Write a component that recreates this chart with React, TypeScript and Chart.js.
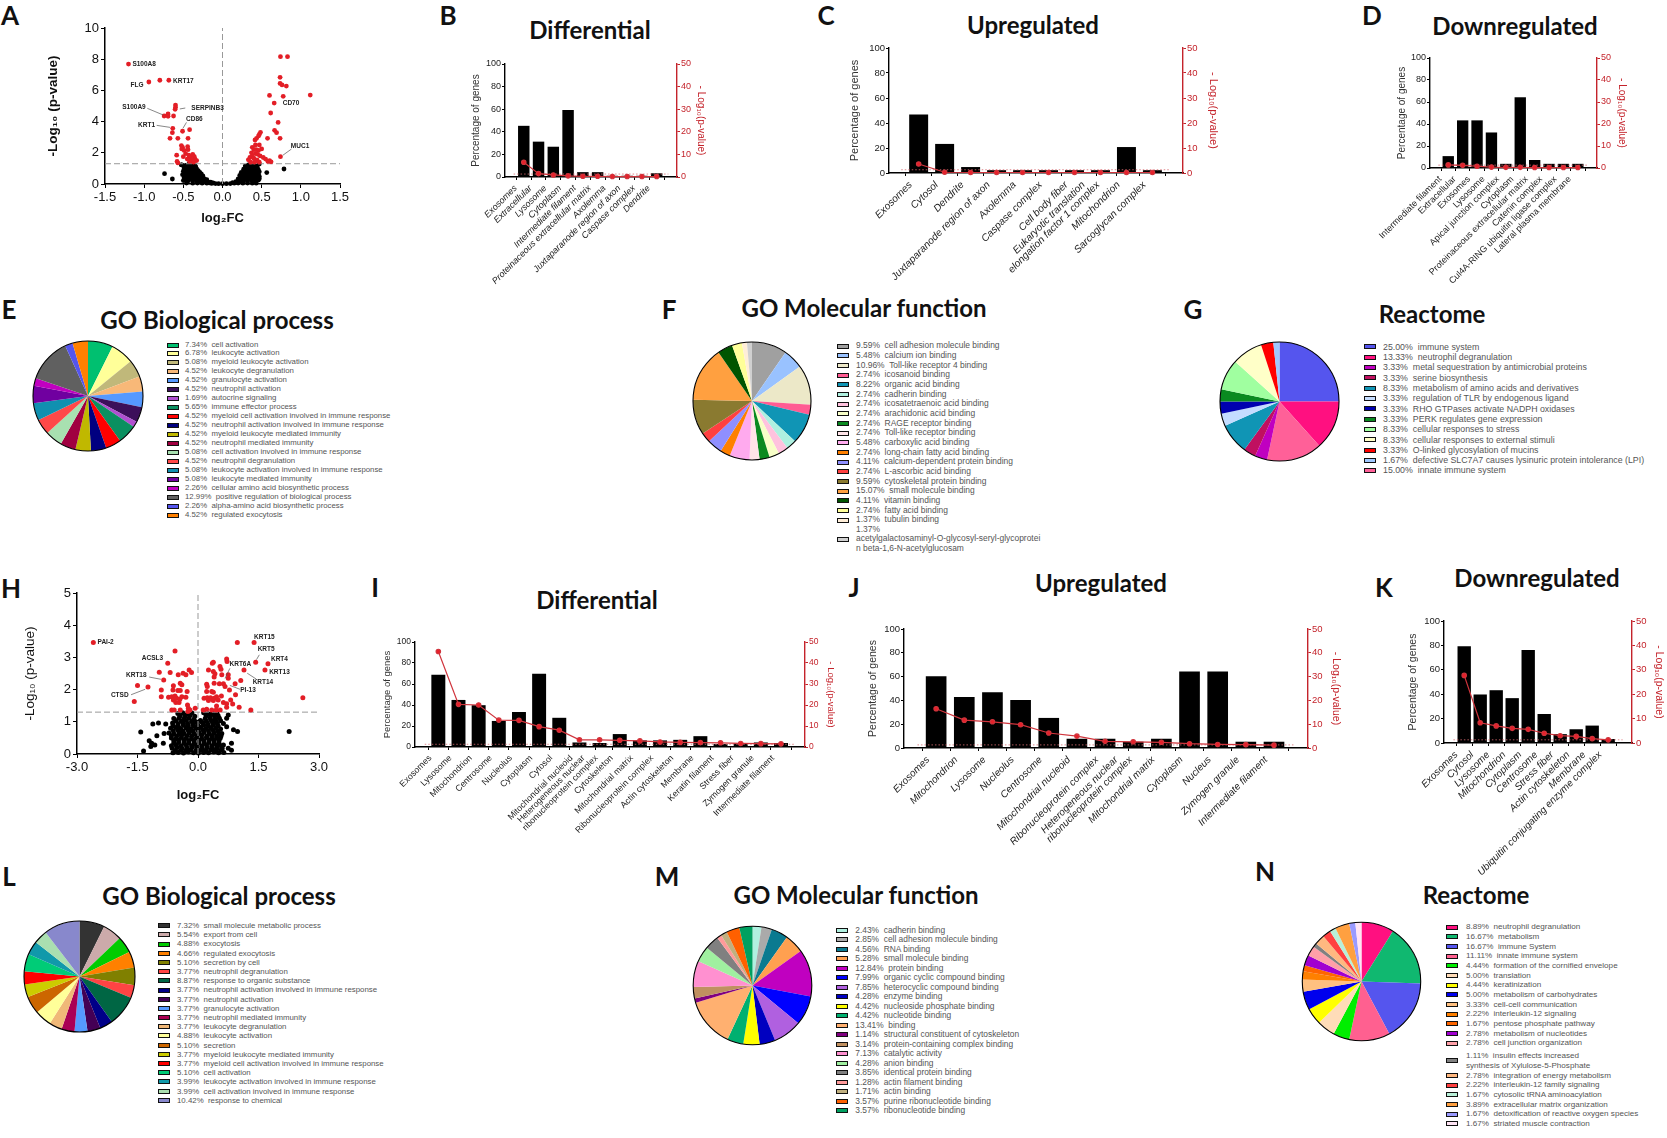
import React, { useEffect, useRef } from "react";
import { Chart, registerables } from "chart.js";

Chart.register(...registerables);

// ---- volcano A ----
const aRed = [
  [-1.2, 7.69], [-0.94, 6.54], [-0.8, 6.65], [-0.685, 6.65], [-0.6, 5.06], [-0.6, 4.92], [-0.605, 4.79],
  [-0.745, 4.36], [-0.695, 4.49], [-0.695, 4.34], [-0.625, 4.36], [-0.635, 3.57], [-0.64, 3.29], [-0.67, 2.93],
  [-0.57, 2.93], [-0.51, 3.38], [-0.42, 3.48], [-0.44, 2.93], [-0.525, 2.46], [-0.51, 2.35], [-0.445, 2.39],
  [-0.52, 2.25], [-0.49, 2.15], [-0.44, 2.2], [-0.47, 1.95], [-0.43, 1.85], [-0.41, 1.7], [-0.38, 1.9],
  [-0.36, 1.75], [-0.35, 1.6], [-0.39, 1.55], [-0.33, 1.5], [-0.42, 1.45], [-0.37, 1.4], [-0.585, 1.85],
  [-0.5, 1.75], [-0.58, 1.45], [-0.57, 1.35], [-0.45, 1.6],
  [0.74, 8.16], [0.83, 8.16], [0.735, 6.84], [0.735, 6.45], [0.76, 6.35], [0.815, 6.28], [1.12, 5.7],
  [0.6, 5.68], [0.775, 5.62], [0.66, 5.19], [0.615, 4.55], [0.71, 3.95], [0.665, 3.44], [0.69, 3.29],
  [0.485, 3.31], [0.47, 3.18], [0.735, 2.93], [0.575, 2.93], [0.435, 2.93], [0.46, 3.08], [0.415, 2.82],
  [0.74, 1.75], [0.42, 2.5], [0.47, 2.5], [0.38, 2.35], [0.4, 2.2], [0.5, 2.25], [0.43, 2.2], [0.46, 2.15],
  [0.37, 2.0], [0.42, 1.95], [0.45, 1.9], [0.35, 1.7], [0.38, 1.8], [0.48, 1.8], [0.52, 1.7], [0.4, 1.65],
  [0.33, 1.55], [0.44, 1.55], [0.55, 1.6], [0.6, 1.5], [0.62, 1.42], [0.36, 1.4], [0.41, 1.4], [0.47, 1.4], [0.58, 1.45],
];
const aBlack = [
  [-0.74, 0.66], [-0.64, 0.32], [0.785, 0.96], [0.565, 0.73], [0.47, 1.28], [-0.525, 1.22],
  [-0.52, 1.22], [-0.47, 1.2], [-0.43, 1.28], [-0.39, 1.25], [-0.35, 1.18], [-0.49, 1.02], [-0.44, 1.05], [-0.4, 1.08],
  [-0.36, 1.0], [-0.33, 0.95], [-0.5, 0.82], [-0.45, 0.88], [-0.41, 0.85], [-0.37, 0.82], [-0.33, 0.78], [-0.29, 0.75],
  [-0.51, 0.6], [-0.44, 0.62], [-0.4, 0.65], [-0.36, 0.6], [-0.32, 0.58], [-0.28, 0.55], [-0.25, 0.52], [-0.49, 0.4],
  [-0.45, 0.42], [-0.4, 0.4], [-0.35, 0.42], [-0.31, 0.38], [-0.27, 0.36], [-0.23, 0.33], [-0.2, 0.28], [-0.5, 0.22],
  [-0.44, 0.2], [-0.38, 0.22], [-0.33, 0.2], [-0.28, 0.18], [-0.23, 0.16], [-0.19, 0.14], [-0.15, 0.12], [-0.46, 0.06],
  [-0.38, 0.05], [-0.32, 0.06], [-0.26, 0.05], [-0.2, 0.05], [-0.14, 0.04], [-0.09, 0.03], [-0.05, 0.02], [0, 0.02],
  [-0.42, 1.15], [-0.38, 1.12], [-0.34, 1.08], [-0.47, 0.95], [-0.42, 0.96], [-0.38, 0.93], [-0.34, 0.9], [-0.31, 0.86],
  [-0.47, 0.72], [-0.42, 0.74], [-0.38, 0.72], [-0.34, 0.7], [-0.3, 0.66], [-0.27, 0.64], [-0.47, 0.5], [-0.42, 0.52],
  [-0.38, 0.5], [-0.33, 0.5], [-0.29, 0.47], [-0.25, 0.43], [-0.47, 0.3], [-0.41, 0.3], [-0.36, 0.31], [-0.3, 0.28],
  [-0.25, 0.25], [-0.21, 0.21], [-0.17, 0.08], [-0.12, 0.07],
  [0.05, 0.02], [0.1, 0.03], [0.15, 0.05], [0.2, 0.06], [0.26, 0.05], [0.32, 0.06], [0.38, 0.05], [0.43, 0.05],
  [0.17, 0.15], [0.22, 0.17], [0.27, 0.2], [0.32, 0.2], [0.37, 0.22], [0.42, 0.2], [0.46, 0.25], [0.2, 0.33],
  [0.25, 0.38], [0.3, 0.4], [0.35, 0.42], [0.4, 0.4], [0.45, 0.42], [0.22, 0.55], [0.26, 0.58], [0.31, 0.6],
  [0.36, 0.62], [0.41, 0.6], [0.46, 0.58], [0.24, 0.75], [0.28, 0.78], [0.33, 0.82], [0.38, 0.85], [0.43, 0.8],
  [0.47, 0.78], [0.27, 0.95], [0.31, 1.0], [0.36, 1.02], [0.41, 1.0], [0.45, 0.98], [0.29, 1.15], [0.33, 1.22],
  [0.37, 1.25], [0.41, 1.2], [0.44, 1.15],
  [0.31, 1.08], [0.35, 1.12], [0.39, 1.1], [0.43, 1.06], [0.29, 0.88], [0.33, 0.92], [0.38, 0.94], [0.42, 0.9],
  [0.46, 0.88], [0.26, 0.66], [0.3, 0.7], [0.35, 0.72], [0.4, 0.72], [0.44, 0.7], [0.23, 0.45], [0.28, 0.48],
  [0.33, 0.5], [0.38, 0.52], [0.43, 0.5], [0.47, 0.48], [0.22, 0.25], [0.27, 0.29], [0.32, 0.31], [0.37, 0.31],
  [0.42, 0.3], [0.47, 0.34], [0.13, 0.09], [0.18, 0.1],
];
const aGenes = [
  ["S100A8", -1.0, 7.67], ["FLG", -1.09, 6.33], ["KRT17", -0.5, 6.6], ["S100A9", -1.13, 4.94], ["SERPINB3", -0.19, 4.85],
  ["CD86", -0.36, 4.17], ["KRT1", -0.97, 3.74], ["CD70", 0.875, 5.21], ["MUC1", 0.99, 2.41],
];
const aLeaders = [
  [-0.96, 4.85, -0.755, 4.42], [-0.545, 4.81, -0.475, 4.87], [-0.505, 3.57, -0.46, 3.95],
  [-0.84, 3.76, -0.67, 3.63], [0.77, 1.84, 0.88, 2.24],
];

// ---- volcano H ----
const hRed = [
  [-2.595, 3.46], [-0.57, 3.2], [-0.75, 2.82], [-0.96, 2.54], [-0.69, 2.53], [-0.85, 2.3], [-1.5, 2.13], [-1.24, 2.08],
  [-1.58, 1.63], [-0.91, 1.99], [-0.91, 1.78], [-0.49, 2.46], [-0.37, 2.51], [-0.3, 2.46], [-0.22, 2.61], [-0.16, 2.53],
  [-0.44, 2.2], [-0.4, 2.15], [-0.61, 2.12], [-0.62, 1.99], [-0.5, 1.97], [-0.44, 1.97], [-0.27, 1.94], [-0.73, 1.76],
  [-0.65, 1.78], [-0.57, 1.8], [-0.61, 1.68], [-0.53, 1.73], [-0.45, 1.7], [-0.4, 1.78], [-0.55, 1.6], [-0.47, 1.6],
  [-0.3, 1.76], [-0.65, 1.37], [-0.59, 1.37], [-0.44, 1.37], [-0.26, 1.52], [-0.24, 1.42], [-0.2, 1.37], [-0.07, 1.42], [-0.25, 1.32],
  [0.975, 3.46], [1.39, 3.46], [1.43, 2.85], [1.735, 2.8], [1.66, 2.61], [1.14, 2.61], [2.6, 1.75], [0.71, 2.95], [0.72, 2.87],
  [0.38, 2.85], [0.355, 2.82], [0.545, 2.72], [0.57, 2.63], [0.26, 2.61], [0.38, 2.56], [0.42, 2.49], [0.4, 2.39], [0.59, 2.46],
  [0.75, 2.46], [0.75, 2.35], [1.06, 2.28], [0.92, 2.18], [0.63, 2.18], [0.53, 2.18], [0.4, 2.2], [0.215, 2.17], [0.23, 2.1],
  [0.67, 2.1], [0.78, 1.99], [0.93, 1.84], [0.215, 1.94], [0.34, 1.94], [0.38, 1.92], [0.15, 1.73], [0.23, 1.75], [0.31, 1.75],
  [0.4, 1.73], [0.46, 1.78], [0.58, 1.8], [0.26, 1.66], [0.38, 1.66], [0.5, 1.68], [0.81, 1.68], [0.63, 1.6], [0.71, 1.56],
  [0.86, 1.55], [1.02, 1.45], [1.31, 1.37], [0.71, 1.45], [0.46, 1.49], [0.215, 1.39], [0.34, 1.37], [0.45, 1.37], [0.55, 1.37], [0.13, 1.37],
];
const hBlack = [
  [-1.42, 0.68], [-1.35, 0.09], [-1.12, 0.93], [-0.98, 0.96], [-0.8, 0.93], [-1.02, 0.57], [-1.21, 0.41], [-1.15, 0.33], [-1.07, 0.28],
  [-1.17, 0.23], [-0.84, 0.64], [-0.86, 0.33], [2.26, 0.7], [0.88, 0.75], [0.98, 0.7], [0.75, 1.21], [0.71, 1.11], [0.63, 0.95],
  [0.71, 0.85], [0.59, 0.64], [0.55, 0.49], [0.83, 0.33], [0.83, 0.12], [0.75, 0.18], [0.63, 0.28],
  [-0.5, 1.26], [-0.38, 1.28], [-0.27, 1.25], [-0.15, 1.27], [0.14, 1.28], [0.25, 1.25], [0.36, 1.27], [0.47, 1.26],
  [-0.6, 1.1], [-0.47, 1.12], [-0.35, 1.09], [-0.22, 1.12], [-0.1, 1.08], [0.06, 1.04], [0.18, 1.1], [0.3, 1.12], [0.42, 1.09], [0.53, 1.11],
  [-0.63, 0.96], [-0.5, 0.94], [-0.38, 0.97], [-0.26, 0.95], [-0.13, 0.93], [-0.01, 0.91], [0.12, 0.96], [0.24, 0.94], [0.36, 0.97], [0.48, 0.95],
  [-0.68, 0.8], [-0.55, 0.82], [-0.43, 0.79], [-0.3, 0.81], [-0.18, 0.78], [-0.05, 0.8], [0.07, 0.82], [0.2, 0.79], [0.32, 0.81], [0.44, 0.8], [0.56, 0.78],
  [-0.72, 0.65], [-0.6, 0.63], [-0.47, 0.66], [-0.35, 0.64], [-0.22, 0.66], [-0.1, 0.63], [0.03, 0.65], [0.15, 0.67], [0.28, 0.64], [0.4, 0.65], [0.52, 0.63],
  [-0.66, 0.5], [-0.54, 0.48], [-0.41, 0.51], [-0.29, 0.49], [-0.16, 0.47], [-0.04, 0.5], [0.09, 0.48], [0.21, 0.51], [0.34, 0.49], [0.46, 0.5],
  [-0.6, 0.34], [-0.48, 0.36], [-0.35, 0.33], [-0.23, 0.35], [-0.1, 0.32], [0.02, 0.35], [0.15, 0.33], [0.27, 0.36], [0.4, 0.34], [0.52, 0.33],
  [-0.64, 0.18], [-0.52, 0.2], [-0.39, 0.17], [-0.27, 0.19], [-0.14, 0.21], [-0.02, 0.18], [0.11, 0.17], [0.23, 0.2], [0.36, 0.18], [0.48, 0.19], [0.6, 0.17],
  [-0.62, 0.04], [-0.49, 0.05], [-0.36, 0.03], [-0.24, 0.06], [-0.11, 0.04], [0.01, 0.03], [0.14, 0.05], [0.26, 0.04], [0.39, 0.06], [0.51, 0.04], [0.64, 0.05],
  [-0.44, 1.19], [-0.32, 1.18], [-0.2, 1.2], [-0.08, 1.17], [0.2, 1.19], [0.31, 1.2], [0.41, 1.18], [0.5, 1.19],
  [-0.54, 1.03], [-0.41, 1.02], [-0.29, 1.04], [-0.16, 1.01], [-0.04, 0.99], [0.09, 1.0], [0.21, 1.02], [0.33, 1.04], [0.45, 1.02], [0.56, 1.03],
  [-0.62, 0.88], [-0.49, 0.87], [-0.36, 0.89], [-0.24, 0.87], [-0.11, 0.86], [0.01, 0.87], [0.14, 0.89], [0.26, 0.87], [0.38, 0.89], [0.5, 0.87],
  [-0.61, 0.72], [-0.49, 0.73], [-0.37, 0.71], [-0.24, 0.73], [-0.12, 0.71], [0.01, 0.72], [0.13, 0.74], [0.26, 0.72], [0.38, 0.73], [0.5, 0.71],
  [-0.66, 0.57], [-0.53, 0.56], [-0.41, 0.58], [-0.28, 0.57], [-0.16, 0.55], [-0.03, 0.57], [0.09, 0.58], [0.22, 0.56], [0.34, 0.57], [0.46, 0.56], [0.57, 0.56],
  [-0.6, 0.42], [-0.48, 0.43], [-0.35, 0.42], [-0.23, 0.41], [-0.1, 0.4], [0.03, 0.42], [0.15, 0.41], [0.28, 0.43], [0.4, 0.42], [0.52, 0.41],
  [-0.66, 0.26], [-0.54, 0.27], [-0.42, 0.25], [-0.29, 0.27], [-0.16, 0.26], [-0.04, 0.27], [0.09, 0.25], [0.21, 0.28], [0.34, 0.26], [0.46, 0.27], [0.58, 0.25],
  [-0.56, 0.11], [-0.43, 0.12], [-0.3, 0.11], [-0.18, 0.13], [-0.05, 0.11], [0.07, 0.12], [0.2, 0.11], [0.32, 0.13], [0.45, 0.11], [0.57, 0.12],
];
const hGenes = [
  ["PAI-2", -2.29, 3.46], ["ACSL3", -1.13, 2.97], ["KRT18", -1.53, 2.44], ["CTSD", -1.94, 1.82], ["KRT15", 1.645, 3.64],
  ["KRT5", 1.69, 3.24], ["KRT4", 2.02, 2.93], ["KRT13", 2.02, 2.55], ["KRT6A", 1.05, 2.78], ["KRT14", 1.61, 2.22], ["PI-13", 1.24, 1.97],
];
const hLeaders = [
  [-1.21, 2.39, -0.92, 2.32], [-1.66, 1.84, -1.31, 2.01], [1.52, 3.08, 1.45, 2.93],
  [0.79, 2.66, 0.67, 2.35], [1.22, 2.51, 1.44, 2.33], [0.79, 2.13, 1.04, 2.01],
];

// ---- bars ----
const bLabels = ["Exosomes", "Extracellular", "Lysosome", "Cytoplasm", "Intermediate filament", "Proteinaceous extracellular matrix", "Axolemma", "Juxtaparanode region of axon", "Caspase complex", "Dendrite"];
const bPercent = [45, 31, 26.5, 59, 4, 4, 0.8, 0.8, 0.8, 3];
const bLog = [6.5, 1.5, 0.9, 0.5, 0.3, 0.3, 0.2, 0.2, 0.2, 0.2];

const cLabels = ["Exosomes", "Cytosol", "Dendrite", "Juxtaparanode region of axon", "Axolemma", "Caspase complex", "Cell body fiber", ["Eukaryotic translation", "elongation factor 1 complex"], "Mitochondrion", "Sarcoglycan complex"];
const cPercent = [46.5, 23, 4.5, 2, 2, 2, 2, 2, 20.5, 2];
const cLog = [3.6, 0.3, 0.2, 0.2, 0.2, 0.2, 0.2, 0.2, 0.2, 0.2];

const dLabels = ["Intermediate filament", "Extracellular", "Exosomes", "Lysosome", "Apical junction complex", "Cytoplasm", "Proteinaceous extracellular matrix", "Catenin complex", "Cul4A-RING ubiquitin ligase complex", "Lateral plasma membrane"];
const dPercent = [10.5, 43, 43, 32, 3.5, 64, 7, 3.5, 3.5, 3.5];
const dLog = [1.4, 1.2, 0.8, 0.4, 0.3, 0.3, 0.2, 0.2, 0.2, 0.2];

const iLabels = ["Exosomes", "Lysosome", "Mitochondrion", "Centrosome", "Nucleolus", "Cytoplasm", "Cytosol", "Mitochondrial nucleoid", ["Heterogeneous nuclear", "ribonucleoprotein complex"], "Cytoskeleton", "Mitochondrial matrix", "Ribonucleoprotein complex", "Actin cytoskeleton", "Membrane", "Keratin filament", "Stress fiber", "Zymogen granule", "Intermediate filament"];
const iPercent = [68.5, 44.5, 39.5, 24.5, 33, 69.5, 27.5, 4, 3.5, 12, 6, 6, 6.5, 10, 2.5, 3, 4, 3.5];
const iLog = [45.5, 20.3, 20, 12.8, 12.7, 9.7, 8, 3.4, 3.4, 3.2, 2.9, 2.4, 2.2, 2.1, 2, 1.7, 1.6, 1.5];

const jLabels = ["Exosomes", "Mitochondrion", "Lysosome", "Nucleolus", "Centrosome", "Mitochondrial nucleoid", "Ribonucleoprotein complex", ["Heterogeneous nuclear", "ribonucleoprotein complex"], "Mitochondrial matrix", "Cytoplasm", "Nucleus", "Zymogen granule", "Intermediate filament"];
const jPercent = [60, 42.5, 46.5, 40, 25, 7.5, 7.5, 5, 7.5, 64, 64, 5, 5];
const jLog = [16.5, 11.7, 11, 9.8, 6.3, 5, 2.8, 2.6, 2.4, 1.8, 1.5, 1.4, 1.2];

const kLabels = ["Exosomes", "Cytosol", "Lysosome", "Mitochondrion", "Cytoplasm", "Centrosome", "Stress fiber", "Actin cytoskeleton", "Membrane", "Ubiquitin conjugating enzyme complex"];
const kPercent = [79, 39.5, 43, 36.5, 76, 23.5, 7, 11, 14, 3];
const kLog = [27.7, 8.3, 7, 6, 5.6, 4, 3, 2.7, 1.8, 1.3];

// ---- pies ----
const eValues = [7.34, 6.78, 5.08, 4.52, 4.52, 4.52, 1.69, 5.65, 4.52, 4.52, 4.52, 4.52, 5.08, 4.52, 5.08, 5.08, 2.26, 12.99, 2.26, 4.52];
const eNames = ["cell activation", "leukocyte activation", "myeloid leukocyte activation", "leukocyte degranulation", "granulocyte activation", "neutrophil activation", "autocrine signaling", "immune effector process", "myeloid cell activation involved in immune response", "neutrophil activation involved in immune response", "myeloid leukocyte mediated immunity", "neutrophil mediated immunity", "cell activation involved in immune response", "neutrophil degranulation", "leukocyte activation involved in immune response", "leukocyte mediated immunity", "cellular amino acid biosynthetic process", "positive regulation of biological process", "alpha-amino acid biosynthetic process", "regulated exocytosis"];
const eColors = ["#00c070", "#ffff99", "#c0b87a", "#f8b878", "#5599ff", "#3c0f5a", "#b050d0", "#0a9060", "#ff0000", "#000080", "#c0b800", "#a00040", "#a8e0b0", "#ff4848", "#1090b0", "#7000a0", "#c000c0", "#606060", "#5555ee", "#ff8000"];

const fValues = [9.59, 5.48, 10.96, 2.74, 8.22, 2.74, 2.74, 2.74, 2.74, 2.74, 5.48, 2.74, 4.11, 2.74, 9.59, 15.07, 4.11, 2.74, 1.37, 1.37];
const fNames = ["cell adhesion molecule binding", "calcium ion binding", "Toll-like receptor 4 binding", "icosanoid binding", "organic acid binding", "cadherin binding", "icosatetraenoic acid binding", "arachidonic acid binding", "RAGE receptor binding", "Toll-like receptor binding", "carboxylic acid binding", "long-chain fatty acid binding", "calcium-dependent protein binding", "L-ascorbic acid binding", "cytoskeletal protein binding", "small molecule binding", "vitamin binding", "fatty acid binding", "tubulin binding", "\nacetylgalactosaminyl-O-glycosyl-seryl-glycoprotei\nn beta-1,6-N-acetylglucosam"];
const fColors = ["#a0a0a0", "#99c2ff", "#ece8c8", "#ff5c93", "#1095b5", "#aff0e0", "#ffc2de", "#f8ffc8", "#0a8a20", "#ffe4e8", "#ffaaee", "#ff8000", "#8f8fff", "#ff4040", "#8a7a30", "#ffa040", "#005500", "#ffff99", "#ffeed8", "#d0d0d0"];

const gValues = [25, 13.33, 15, 3.33, 3.33, 8.33, 3.33, 3.33, 3.33, 8.33, 8.33, 3.33, 1.67];
const gNames = ["immune system", "neutrophil degranulation", "innate immune system", "metal sequestration by antimicrobial proteins", "serine biosynthesis", "metabolism of amino acids and derivatives", "regulation of TLR by endogenous ligand", "RHO GTPases activate NADPH oxidases", "PERK regulates gene expression", "cellular responses to stress", "cellular responses to external stimuli", "O-linked glycosylation of mucins", "defective SLC7A7 causes lysinuric protein intolerance (LPI)"];
const gColors = ["#5555ee", "#ff1080", "#ff6098", "#c000c0", "#c01060", "#1095b5", "#c4dcff", "#0000b0", "#0a8a20", "#a0ffa0", "#ffffc8", "#ff0000", "#a0c8ff"];
const gLegendOrder = [0, 1, 3, 4, 5, 6, 7, 8, 9, 10, 11, 12, 2];

const lValues = [7.32, 5.54, 4.88, 4.66, 5.1, 3.77, 8.87, 3.77, 3.77, 3.77, 3.77, 3.77, 4.88, 5.1, 3.77, 3.77, 5.1, 3.99, 3.99, 10.42];
const lNames = ["small molecule metabolic process", "export from cell", "exocytosis", "regulated exocytosis", "secretion by cell", "neutrophil degranulation", "response to organic substance", "neutrophil activation involved in immune response", "neutrophil activation", "granulocyte activation", "neutrophil mediated immunity", "leukocyte degranulation", "leukocyte activation", "secretion", "myeloid leukocyte mediated immunity", "myeloid cell activation involved in immune response", "cell activation", "leukocyte activation involved in immune response", "cell activation involved in immune response", "response to chemical"];
const lColors = ["#333333", "#ccaaaa", "#00cc00", "#ff8000", "#808000", "#ff4444", "#006644", "#000088", "#440055", "#5599ff", "#aa0055", "#f0b878", "#ffff99", "#cc6600", "#cccc00", "#ff0000", "#00cc77", "#1199aa", "#aadfb0", "#8888cc"];

const mValues = [2.43, 2.85, 4.56, 5.28, 12.84, 7.99, 7.85, 4.28, 4.42, 4.42, 13.41, 1.14, 3.14, 7.13, 4.28, 3.85, 1.28, 1.71, 3.57, 3.57];
const mNames = ["cadherin binding", "cell adhesion molecule binding", "RNA binding", "small molecule binding", "protein binding", "organic cyclic compound binding", "heterocyclic compound binding", "enzyme binding", "nucleoside phosphate binding", "nucleotide binding", "binding", "structural constituent of cytoskeleton", "protein-containing complex binding", "catalytic activity", "anion binding", "identical protein binding", "actin filament binding", "actin binding", "purine ribonucleotide binding", "ribonucleotide binding"];
const mColors = ["#b0f0e0", "#aaaaaa", "#0a7a90", "#ffa050", "#c000c0", "#0000ff", "#b060e0", "#0000c0", "#ffff00", "#00b070", "#ffb070", "#800080", "#c09060", "#ff90d0", "#a0f0a0", "#808080", "#ff9a9a", "#c0b080", "#ff6000", "#00a060"];

const nValues = [8.89, 16.67, 16.67, 11.11, 4.44, 5, 4.44, 5, 3.33, 2.22, 1.67, 2.78, 2.78, 1.11, 2.78, 2.22, 1.67, 3.89, 1.67, 1.67];
const nNames = ["neutrophil degranulation", "metabolism", "immune System", "innate immune system", "formation of the cornified envelope", "translation", "keratinization", "metabolism of carbohydrates", "cell-cell communication", "interleukin-12 signaling", "pentose phosphate pathway", "metabolism of nucleotides", "cell junction organization", "insulin effects increased\nsynthesis of Xylulose-5-Phosphate", "integration of energy metabolism", "interleukin-12 family signaling", "cytosolic tRNA aminoacylation", "extracellular matrix organization", "detoxification of reactive oxygen species", "striated muscle contraction"];
const nColors = ["#ff1080", "#10b870", "#5555ee", "#ff6090", "#00ee00", "#ffdcb8", "#ffff00", "#0000ee", "#ffc080", "#ff8000", "#ff6600", "#a000d0", "#ffa0a8", "#808080", "#ffb880", "#ff4040", "#b8f0d8", "#ffa040", "#9a9aff", "#ffe4f4"];

const headings = [
  ["Differential", 590, 29], ["Upregulated", 1033, 24], ["Downregulated", 1515, 25],
  ["GO Biological process", 217, 319], ["GO Molecular function", 864, 307], ["Reactome", 1432, 313],
  ["Differential", 597, 599], ["Upregulated", 1101, 582], ["Downregulated", 1537, 577],
  ["GO Biological process", 219, 895], ["GO Molecular function", 856, 894], ["Reactome", 1476, 894],
];
const letters = [
  ["A", 10, 15], ["B", 448, 15], ["C", 826, 15], ["D", 1372, 15], ["E", 9, 309], ["F", 669, 309], ["G", 1193, 309],
  ["H", 11, 588], ["I", 375, 587], ["J", 854, 587], ["K", 1384, 587], ["L", 9, 876], ["M", 667, 876], ["N", 1265, 871],
];

const RED = "#c4232b";
const FONT = "'Liberation Sans', Arial, sans-serif";
const LEFT_EXTRA = 45;

const toXY = (pts: number[][]) => pts.map(([x, y]) => ({ x, y }));

function BarPanel({ labels, percent, logp, box, italic }: any) {
  const ref = useRef<HTMLCanvasElement>(null);
  const n = labels.length;
  const spacing = (box.last - box.first) / (n - 1);
  const xMin = -(box.first - box.axisL) / spacing;
  const xMax = n - 1 + (box.axisR - box.last) / spacing;
  const left = Math.round(box.titleL - 0.6 * box.titleSize - LEFT_EXTRA);
  const right = Math.round(box.titleR + 0.6 * box.titleSize);
  const top = Math.round(box.y100 - 10);
  const width = right - left;
  const height = box.bottom - top;

  // two-line labels become two ticks either side of the real tick mark
  const tickList: { value: number; text: string }[] = [];
  labels.forEach((l: any, i: number) => {
    if (Array.isArray(l)) {
      tickList.push(
        { value: i - (0.95 * box.labelSize) / spacing, text: l[0] },
        { value: i, text: "" },
        { value: i + (0.6 * box.labelSize) / spacing, text: l[1] }
      );
    } else {
      tickList.push({ value: i, text: l });
    }
  });

  useEffect(() => {
    if (!ref.current) return;
    const tickFont = { family: FONT, size: box.tickSize };
    const titleFont = { family: FONT, size: box.titleSize };
    const chart = new Chart(ref.current, {
      type: "bar",
      data: {
        datasets: [
          {
            type: "line",
            order: 0,
            yAxisID: "y1",
            data: percent.map((_: number, i: number) => ({ x: i, y: logp[i] })),
            borderColor: "#d0343c",
            backgroundColor: "#e8202a",
            borderWidth: 1.2,
            pointRadius: 2.2,
            tension: 0,
            clip: false,
          },
          {
            type: "line",
            order: 0,
            yAxisID: "y1",
            data: [{ x: xMin, y: 1.3 }, { x: xMax, y: 1.3 }],
            borderColor: "#d86a70",
            borderWidth: 0.8,
            borderDash: [1.5, 2],
            pointRadius: 0,
          },
          {
            type: "bar",
            order: 1,
            yAxisID: "y",
            data: percent.map((v: number, i: number) => ({ x: i, y: v })),
            backgroundColor: "#000",
            barThickness: box.barW,
            grouped: false,
          },
        ],
      },
      options: {
        animation: false,
        responsive: false,
        events: [],
        layout: { padding: { top: 10, left: 0, right: 0, bottom: 0 } },
        plugins: { legend: { display: false }, tooltip: { enabled: false } },
        scales: {
          x: {
            type: "linear",
            min: xMin,
            max: xMax,
            afterBuildTicks: (s: any) => {
              s.ticks = tickList.map((t) => ({ value: t.value }));
            },
            afterFit: (s: any) => {
              s.height = box.bottom - box.y0;
              s.paddingLeft = 0;
              s.paddingRight = 0;
            },
            grid: {
              drawOnChartArea: false,
              tickLength: 3,
              tickColor: (c: any) => (c.tick && !Number.isInteger(c.tick.value) ? "rgba(0,0,0,0)" : "#000"),
            },
            border: { color: "#000", width: 1.4 },
            ticks: {
              stepSize: 1,
              includeBounds: false,
              autoSkip: false,
              minRotation: 45,
              maxRotation: 45,
              padding: 3,
              labelOffset: -8,
              color: "#222",
              font: { family: FONT, size: box.labelSize, style: italic ? "italic" : "normal" },
              callback: (v: number) => tickList.find((t) => t.value === v)?.text ?? "",
            },
          },
          y: {
            position: "left",
            min: 0,
            max: 100,
            afterFit: (s: any) => {
              s.width = box.axisL - left;
            },
            grid: { drawOnChartArea: false, tickLength: 3, tickColor: "#000" },
            border: { color: "#000", width: 1.4 },
            ticks: { stepSize: 20, padding: 1, color: "#222", font: tickFont },
            title: {
              display: true,
              text: "Percentage of genes",
              color: "#333",
              font: titleFont,
              padding: { top: LEFT_EXTRA, bottom: 0 },
            },
          },
          y1: {
            position: "right",
            min: 0,
            max: 50,
            afterFit: (s: any) => {
              s.width = right - box.axisR;
            },
            grid: { drawOnChartArea: false, tickLength: 3, tickColor: RED },
            border: { color: RED, width: 1.4 },
            ticks: { stepSize: 10, padding: 1, color: RED, font: tickFont },
            title: { display: true, text: "- Log₁₀(p-value)", color: RED, font: titleFont, padding: 0 },
          },
        },
      } as any,
    } as any);
    return () => chart.destroy();
  }, []);

  return <canvas ref={ref} width={width} height={height} style={{ position: "absolute", left, top, width, height }} />;
}

function VolcanoPanel({ red, black, genes, leaders, box }: any) {
  const ref = useRef<HTMLCanvasElement>(null);
  const left = Math.round(box.titleX - 0.6 * box.titleSize);
  const top = Math.round(box.yTop - 10);
  const bottom = Math.round(box.titleY + 0.6 * box.titleSize);
  const width = box.axisR + 18 - left;
  const height = bottom - top;

  useEffect(() => {
    if (!ref.current) return;
    const annotate = {
      id: "annotate",
      afterDatasetsDraw(chart: any) {
        const { ctx, scales } = chart;
        ctx.save();
        ctx.strokeStyle = "#555";
        ctx.lineWidth = 0.7;
        leaders.forEach(([x1, y1, x2, y2]: number[]) => {
          ctx.beginPath();
          ctx.moveTo(scales.x.getPixelForValue(x1), scales.y.getPixelForValue(y1));
          ctx.lineTo(scales.x.getPixelForValue(x2), scales.y.getPixelForValue(y2));
          ctx.stroke();
        });
        ctx.fillStyle = "#222";
        ctx.font = `bold 6.5px ${FONT}`;
        ctx.textAlign = "center";
        ctx.textBaseline = "middle";
        genes.forEach(([text, x, y]: any) => {
          ctx.fillText(text, scales.x.getPixelForValue(x), scales.y.getPixelForValue(y));
        });
        ctx.restore();
      },
    };
    const chart = new Chart(ref.current, {
      type: "scatter",
      data: {
        datasets: [
          { order: 0, data: toXY(red), backgroundColor: "#e31e26", pointRadius: box.dot, borderWidth: 0, clip: false },
          { order: 2, data: toXY(black), backgroundColor: "#000", pointRadius: box.dot, borderWidth: 0, clip: false },
          {
            order: 1,
            data: [{ x: box.xMin, y: 1.3 }, { x: box.xMax, y: 1.3 }],
            showLine: true,
            borderColor: "#999",
            borderWidth: 1,
            borderDash: [6, 3],
            pointRadius: 0,
          },
          {
            order: 1,
            data: [{ x: 0, y: 0 }, { x: 0, y: box.yMax }],
            showLine: true,
            borderColor: "#999",
            borderWidth: 1,
            borderDash: [6, 3],
            pointRadius: 0,
          },
        ],
      },
      options: {
        animation: false,
        responsive: false,
        events: [],
        layout: { padding: { top: 10, right: 18, left: 0, bottom: 0 } },
        plugins: { legend: { display: false }, tooltip: { enabled: false } },
        scales: {
          x: {
            type: "linear",
            min: box.xMin,
            max: box.xMax,
            afterFit: (s: any) => {
              s.height = bottom - box.y0;
            },
            grid: { drawOnChartArea: false, tickLength: 4, tickColor: "#000" },
            border: { color: "#000", width: 1.5 },
            ticks: {
              stepSize: box.xStep,
              maxRotation: 0,
              padding: 2,
              color: "#111",
              font: { family: FONT, size: box.tickSize },
              callback: (v: number) => v.toFixed(1),
            },
            title: {
              display: true,
              text: "log₂FC",
              color: "#111",
              font: { family: FONT, size: 13, weight: "bold" },
              padding: 0,
            },
          },
          y: {
            min: 0,
            max: box.yMax,
            afterFit: (s: any) => {
              s.width = box.axisL - left;
            },
            grid: { drawOnChartArea: false, tickLength: 4, tickColor: "#000" },
            border: { color: "#000", width: 1.5 },
            ticks: { stepSize: box.yStep, padding: 2, color: "#111", font: { family: FONT, size: box.tickSize } },
            title: {
              display: true,
              text: "-Log₁₀ (p-value)",
              color: "#111",
              font: { family: FONT, size: box.titleSize, weight: box.titleWeight },
              padding: 0,
            },
          },
        },
      } as any,
      plugins: [annotate],
    } as any);
    return () => chart.destroy();
  }, []);

  return <canvas ref={ref} width={width} height={height} style={{ position: "absolute", left, top, width, height }} />;
}

function PiePanel({ values, names, colors, pie, legend, legendOrder }: any) {
  const ref = useRef<HTMLCanvasElement>(null);
  const size = Math.ceil(pie.r * 2 + 4);

  useEffect(() => {
    if (!ref.current) return;
    const outline = {
      id: "outline",
      afterDatasetsDraw(chart: any) {
        const arc = chart.getDatasetMeta(0).data[0];
        const { ctx } = chart;
        ctx.save();
        ctx.strokeStyle = "#000";
        ctx.lineWidth = 1.1;
        ctx.beginPath();
        ctx.arc(arc.x, arc.y, arc.outerRadius, 0, Math.PI * 2);
        ctx.stroke();
        ctx.restore();
      },
    };
    const chart = new Chart(ref.current, {
      type: "pie",
      data: { labels: names, datasets: [{ data: values, backgroundColor: colors, borderWidth: 0 }] },
      options: {
        animation: false,
        responsive: false,
        events: [],
        radius: pie.r,
        plugins: { legend: { display: false }, tooltip: { enabled: false } },
      } as any,
      plugins: [outline],
    } as any);
    return () => chart.destroy();
  }, []);

  const order: number[] = legendOrder || values.map((_: number, i: number) => i);
  let y = legend.first - legend.step / 2;
  const rows = order.map((idx: number, i: number) => {
    const lines = `${values[idx].toFixed(2)}%  ${names[idx]}`.split("\n");
    const h = lines.length * legend.step;
    if (legend.gapAt === i) y += legend.gap;
    const rowTop = y;
    y += h;
    return (
      <div key={idx}>
        <div
          style={{
            position: "absolute",
            left: legend.swatchX,
            top: rowTop + h / 2 - 2.5,
            width: legend.swatchW,
            height: 3,
            border: "1px solid #111",
            background: colors[idx],
          }}
        />
        <div
          style={{
            position: "absolute",
            left: legend.textX,
            top: rowTop,
            whiteSpace: "pre",
            font: `${legend.font}px/${legend.step}px ${FONT}`,
            color: "#555",
          }}
        >
          {lines.join("\n")}
        </div>
      </div>
    );
  });

  return (
    <>
      <canvas
        ref={ref}
        width={size}
        height={size}
        style={{ position: "absolute", left: pie.cx - size / 2, top: pie.cy - size / 2, width: size, height: size }}
      />
      {rows}
    </>
  );
}

const centered = (x: number, y: number): React.CSSProperties => ({
  position: "absolute",
  left: x,
  top: y,
  transform: "translate(-50%, -50%)",
  whiteSpace: "nowrap",
  color: "#111",
  fontFamily: "Lato, sans-serif",
  fontWeight: 700,
});

export default function App() {
  return (
    <div style={{ position: "absolute", left: 0, top: 0, width: 1667, height: 1138, background: "#fff", overflow: "hidden" }}>
      {letters.map(([t, x, y]: any) => (
        <div key={t} style={{ ...centered(x, y), fontSize: 26 }}>{t}</div>
      ))}
      {headings.map(([t, x, y]: any, i) => (
        <div key={i} style={{ ...centered(x, y), fontSize: 24 }}>{t}</div>
      ))}

      <VolcanoPanel red={aRed} black={aBlack} genes={aGenes} leaders={aLeaders}
        box={{ axisL: 105, axisR: 340, y0: 184, yTop: 28, titleX: 53, titleY: 218, titleSize: 13.5, titleWeight: "bold", tickSize: 13, xMin: -1.5, xMax: 1.5, xStep: 0.5, yMax: 10, yStep: 2, dot: 2.4 }} />
      <VolcanoPanel red={hRed} black={hBlack} genes={hGenes} leaders={hLeaders}
        box={{ axisL: 77, axisR: 319, y0: 754, yTop: 593, titleX: 30, titleY: 795, titleSize: 13.5, titleWeight: "normal", tickSize: 13, xMin: -3, xMax: 3, xStep: 1.5, yMax: 5, yStep: 1, dot: 2.5 }} />

      <BarPanel labels={bLabels} percent={bPercent} logp={bLog} italic
        box={{ axisL: 505, axisR: 677, y100: 64, y0: 177, first: 516.3, last: 664, barW: 10.8, titleL: 476, titleR: 701, bottom: 296, tickSize: 9, titleSize: 10, labelSize: 9 }} />
      <BarPanel labels={cLabels} percent={cPercent} logp={cLog} italic
        box={{ axisL: 889, axisR: 1183, y100: 48, y0: 173, first: 908, last: 1163, barW: 18.3, titleL: 855, titleR: 1213, bottom: 296, tickSize: 9.5, titleSize: 11, labelSize: 10.2 }} />
      <BarPanel labels={dLabels} percent={dPercent} logp={dLog}
        box={{ axisL: 1430, axisR: 1597, y100: 58, y0: 168, first: 1441, last: 1585, barW: 10.7, titleL: 1402, titleR: 1622, bottom: 296, tickSize: 9, titleSize: 10, labelSize: 9 }} />
      <BarPanel labels={iLabels} percent={iPercent} logp={iLog}
        box={{ axisL: 415, axisR: 805, y100: 642, y0: 747, first: 429.3, last: 790, barW: 13.3, titleL: 388, titleR: 830, bottom: 846, tickSize: 8.5, titleSize: 9.5, labelSize: 8.8 }} />
      <BarPanel labels={jLabels} percent={jPercent} logp={jLog} italic
        box={{ axisL: 904, axisR: 1308, y100: 629, y0: 748, first: 924, last: 1286, barW: 20, titleL: 873, titleR: 1336, bottom: 862, tickSize: 9.5, titleSize: 10.5, labelSize: 10 }} />
      <BarPanel labels={kLabels} percent={kPercent} logp={kLog} italic
        box={{ axisL: 1444, axisR: 1632, y100: 621, y0: 743, first: 1456, last: 1616, barW: 12.7, titleL: 1413, titleR: 1659, bottom: 892, tickSize: 9.5, titleSize: 10.5, labelSize: 10 }} />

      <PiePanel values={eValues} names={eNames} colors={eColors}
        pie={{ cx: 88, cy: 396, r: 55 }} legend={{ swatchX: 167, swatchW: 10, textX: 185, first: 345, step: 8.95, font: 7.8 }} />
      <PiePanel values={fValues} names={fNames} colors={fColors}
        pie={{ cx: 752, cy: 401, r: 59 }} legend={{ swatchX: 837, swatchW: 10, textX: 856, first: 346.3, step: 9.65, font: 8.45 }} />
      <PiePanel values={gValues} names={gNames} colors={gColors} legendOrder={gLegendOrder}
        pie={{ cx: 1279, cy: 401, r: 59.5 }} legend={{ swatchX: 1364, swatchW: 10, textX: 1383, first: 346.7, step: 10.33, font: 8.8 }} />
      <PiePanel values={lValues} names={lNames} colors={lColors}
        pie={{ cx: 79.5, cy: 976, r: 55.5 }} legend={{ swatchX: 158, swatchW: 10, textX: 177, first: 925.7, step: 9.19, font: 7.85 }} />
      <PiePanel values={mValues} names={mNames} colors={mColors}
        pie={{ cx: 752, cy: 985, r: 59.3 }} legend={{ swatchX: 836, swatchW: 10, textX: 855.3, first: 930.3, step: 9.51, font: 8.4 }} />
      <PiePanel values={nValues} names={nNames} colors={nColors}
        pie={{ cx: 1361.5, cy: 981.5, r: 59.2 }} legend={{ swatchX: 1446, swatchW: 10, textX: 1466, first: 927, step: 9.67, font: 8.1, gapAt: 13, gap: 3.3 }} />
    </div>
  );
}
